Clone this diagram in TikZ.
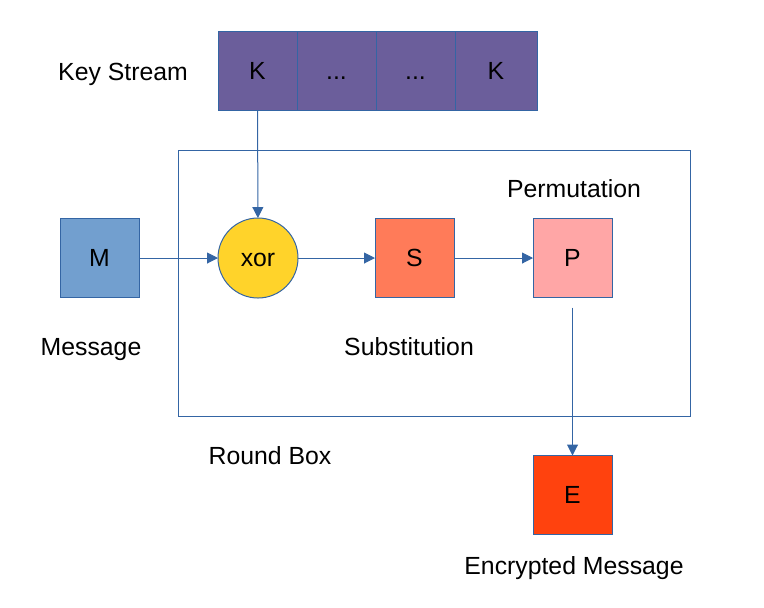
\documentclass[tikz,border=0pt]{standalone}
\usepackage{fontspec}
\setmainfont{Liberation Sans}
\usepackage{xcolor}
\usepackage{tikz}
\usetikzlibrary{positioning, arrows.meta}
\definecolor{lineblue}{HTML}{3465A4}
\definecolor{keypurple}{HTML}{6B5E9B}
\definecolor{msgblue}{HTML}{729FCF}
\definecolor{xoryellow}{HTML}{FFD32A}
\definecolor{subred}{HTML}{FF7B59}
\definecolor{permpink}{HTML}{FFA6A6}
\definecolor{encred}{HTML}{FF420E}
\tikzstyle{arrow} = [draw=lineblue, line width=0.5pt, -{Triangle[length=5.5pt,width=5.5pt]}]
\tikzstyle{block} = [rectangle, draw=lineblue, line width=0.5pt, minimum size=39.5pt, inner sep=0pt, outer sep=0pt, text height=8.9pt, text depth=0pt]
\tikzstyle{txt} = [inner sep=0pt, text height=8.9pt, text depth=0pt]

\begin{document}
\begin{tikzpicture}[x=0.5pt, y=-0.5pt, node distance=39.5pt, font=\fontsize{12.4}{14}\selectfont]
    \useasboundingbox (0,0) rectangle (764,607);
    % key stream
    \node (k1) [block, fill=keypurple] at (257.5,70.5) {K};
    \node (k2) [block, fill=keypurple, right=0pt of k1] {.{}.{}.};
    \node (k3) [block, fill=keypurple, right=0pt of k2] {.{}.{}.};
    \node (k4) [block, fill=keypurple, right=0pt of k3, minimum width=41pt] {K};
    \node (keytxt) [txt] at (123,72) {Key Stream};

    % round box
    \node (round) [draw=lineblue, line width=0.5pt, minimum width=256pt, minimum height=133pt] at (434,283) {};
    \node (roundtxt) [txt] at (270,456) {Round Box};

    \node (msg) [block, fill=msgblue] at (99.5,258) {M};
    \node (xor) [block, circle, fill=xoryellow, minimum size=40pt, right=of msg] {xor};
    \node (sub) [block, fill=subred, right=38.5pt of xor] {S};
    \node (perm) [block, fill=permpink, right=of sub] {P};
    \node (enc) [block, fill=encred, below=79pt of perm] {E};

    \node (msgtxt) [txt] at (91,347) {Message};
    \node (subtxt) [txt] at (409,347) {Substitution};
    \node (permtxt) [txt] at (574,189) {Permutation};
    \node (enctxt) [txt] at (574,566) {Encrypted Message};

    \draw [arrow] (msg) -- (xor);
    \draw [arrow] (k1) -- (xor);
    \draw [arrow] (xor) -- (sub);
    \draw [arrow] (sub) -- (perm);
    \draw [arrow, shorten <=5pt] (perm) -- (enc);
\end{tikzpicture}
\end{document}
